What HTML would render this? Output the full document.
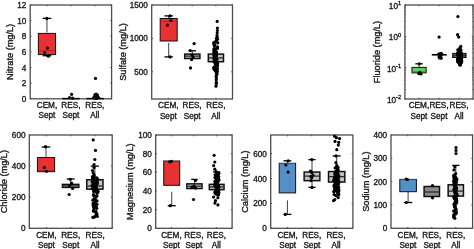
<!DOCTYPE html>
<html><head><meta charset="utf-8"><style>
html,body{margin:0;padding:0;background:#fff;}
body{width:474px;height:249px;overflow:hidden;}
svg{display:block;filter:blur(0.35px);}
text{font-family:"Liberation Sans",sans-serif;fill:#1a1a1a;stroke:#1a1a1a;stroke-width:0.35px;}
</style></head><body>
<svg width="474" height="249" viewBox="0 0 474 249">
<rect width="474" height="249" fill="#fff"/>
<line x1="46.96" y1="18.4" x2="46.96" y2="33.4" stroke="#2a2a2a" stroke-width="0.9" stroke-dasharray="14 9"/>
<line x1="42.66" y1="18.4" x2="51.26" y2="18.4" stroke="#000" stroke-width="1.3"/>
<line x1="46.96" y1="55.7" x2="46.96" y2="54.6" stroke="#2a2a2a" stroke-width="0.9" stroke-dasharray="14 9"/>
<line x1="42.66" y1="55.7" x2="51.26" y2="55.7" stroke="#000" stroke-width="1.3"/>
<rect x="38.36" y="33.4" width="17.2" height="21.2" fill="#e83232" stroke="#111" stroke-width="1"/>
<line x1="38.86" y1="50.6" x2="55.06" y2="50.6" stroke="#b81c1c" stroke-width="0.8"/>
<rect x="30.2" y="5" width="81.4" height="93.8" fill="none" stroke="#4d4d4d" stroke-width="1.3"/>
<line x1="62.1" y1="98.6" x2="79.7" y2="98.6" stroke="#000" stroke-width="1.5"/>
<line x1="86.49" y1="98.6" x2="103.89" y2="98.6" stroke="#000" stroke-width="1.5"/>
<circle cx="46.9" cy="18.4" r="1.6"/>
<circle cx="47.4" cy="48.1" r="1.6"/>
<circle cx="44.7" cy="52.5" r="1.6"/>
<circle cx="48.3" cy="56.2" r="1.6"/>
<circle cx="71.6" cy="94.3" r="1.6"/>
<circle cx="69.6" cy="97.6" r="1.6"/>
<circle cx="72.5" cy="98.2" r="1.6"/>
<circle cx="95.5" cy="78.4" r="1.6"/>
<circle cx="95" cy="94.5" r="1.6"/>
<circle cx="97.5" cy="95" r="1.6"/>
<circle cx="96" cy="96.5" r="1.6"/>
<circle cx="94.5" cy="97.5" r="1.6"/>
<circle cx="97" cy="97.8" r="1.6"/>
<circle cx="95.5" cy="98.3" r="1.6"/>
<circle cx="96.2" cy="94" r="1.6"/>
<circle cx="97.5" cy="96.5" r="1.6"/>
<circle cx="94.8" cy="96" r="1.6"/>
<circle cx="96.5" cy="98.5" r="1.6"/>
<circle cx="93.5" cy="97.8" r="1.6"/>
<circle cx="98.5" cy="97.5" r="1.6"/>
<line x1="46.96" y1="98.8" x2="46.96" y2="97.5" stroke="#4d4d4d" stroke-width="1"/>
<line x1="46.96" y1="5" x2="46.96" y2="6.3" stroke="#4d4d4d" stroke-width="1"/>
<line x1="70.9" y1="98.8" x2="70.9" y2="97.5" stroke="#4d4d4d" stroke-width="1"/>
<line x1="70.9" y1="5" x2="70.9" y2="6.3" stroke="#4d4d4d" stroke-width="1"/>
<line x1="94.84" y1="98.8" x2="94.84" y2="97.5" stroke="#4d4d4d" stroke-width="1"/>
<line x1="94.84" y1="5" x2="94.84" y2="6.3" stroke="#4d4d4d" stroke-width="1"/>
<line x1="30.2" y1="98.8" x2="31.5" y2="98.8" stroke="#4d4d4d" stroke-width="1"/>
<line x1="111.6" y1="98.8" x2="110.3" y2="98.8" stroke="#4d4d4d" stroke-width="1"/>
<text x="26.4" y="101.8" text-anchor="end" font-size="8.2">0</text>
<line x1="30.2" y1="83.17" x2="31.5" y2="83.17" stroke="#4d4d4d" stroke-width="1"/>
<line x1="111.6" y1="83.17" x2="110.3" y2="83.17" stroke="#4d4d4d" stroke-width="1"/>
<text x="26.4" y="86.17" text-anchor="end" font-size="8.2">2</text>
<line x1="30.2" y1="67.53" x2="31.5" y2="67.53" stroke="#4d4d4d" stroke-width="1"/>
<line x1="111.6" y1="67.53" x2="110.3" y2="67.53" stroke="#4d4d4d" stroke-width="1"/>
<text x="26.4" y="70.53" text-anchor="end" font-size="8.2">4</text>
<line x1="30.2" y1="51.9" x2="31.5" y2="51.9" stroke="#4d4d4d" stroke-width="1"/>
<line x1="111.6" y1="51.9" x2="110.3" y2="51.9" stroke="#4d4d4d" stroke-width="1"/>
<text x="26.4" y="54.9" text-anchor="end" font-size="8.2">6</text>
<line x1="30.2" y1="36.27" x2="31.5" y2="36.27" stroke="#4d4d4d" stroke-width="1"/>
<line x1="111.6" y1="36.27" x2="110.3" y2="36.27" stroke="#4d4d4d" stroke-width="1"/>
<text x="26.4" y="39.27" text-anchor="end" font-size="8.2">8</text>
<line x1="30.2" y1="20.63" x2="31.5" y2="20.63" stroke="#4d4d4d" stroke-width="1"/>
<line x1="111.6" y1="20.63" x2="110.3" y2="20.63" stroke="#4d4d4d" stroke-width="1"/>
<text x="26.4" y="23.63" text-anchor="end" font-size="8.2">10</text>
<line x1="30.2" y1="5" x2="31.5" y2="5" stroke="#4d4d4d" stroke-width="1"/>
<line x1="111.6" y1="5" x2="110.3" y2="5" stroke="#4d4d4d" stroke-width="1"/>
<text x="26.4" y="8" text-anchor="end" font-size="8.2">12</text>
<text x="46.96" y="108.2" text-anchor="middle" font-size="8.2">CEM,</text>
<text x="46.96" y="118.3" text-anchor="middle" font-size="8.2">Sept</text>
<text x="70.9" y="108.2" text-anchor="middle" font-size="8.2">RES,</text>
<text x="70.9" y="118.3" text-anchor="middle" font-size="8.2">Sept</text>
<text x="94.84" y="108.2" text-anchor="middle" font-size="8.2">RES,</text>
<text x="94.84" y="118.3" text-anchor="middle" font-size="8.2">All</text>
<text x="0" y="0" text-anchor="middle" font-size="9.2" transform="translate(12.6,51.9) rotate(-90)">Nitrate (mg/L)</text>
<line x1="168.69" y1="15.9" x2="168.69" y2="18.5" stroke="#2a2a2a" stroke-width="0.9" stroke-dasharray="14 9"/>
<line x1="164.44" y1="15.9" x2="172.94" y2="15.9" stroke="#000" stroke-width="1.3"/>
<line x1="168.69" y1="56.9" x2="168.69" y2="41" stroke="#2a2a2a" stroke-width="0.9" stroke-dasharray="14 9"/>
<line x1="164.44" y1="56.9" x2="172.94" y2="56.9" stroke="#000" stroke-width="1.3"/>
<rect x="160.19" y="18.5" width="17" height="22.5" fill="#e83232" stroke="#111" stroke-width="1"/>
<line x1="160.69" y1="21.3" x2="176.69" y2="21.3" stroke="#b81c1c" stroke-width="0.8"/>
<line x1="192.3" y1="50.8" x2="192.3" y2="54.1" stroke="#2a2a2a" stroke-width="0.9" stroke-dasharray="14 9"/>
<line x1="188.6" y1="50.8" x2="196" y2="50.8" stroke="#000" stroke-width="1.3"/>
<rect x="184.7" y="54.1" width="15.2" height="4.4" fill="#c4c4c4" stroke="#111" stroke-width="1.5"/>
<line x1="185.2" y1="56.1" x2="199.4" y2="56.1" stroke="#2a2a2a" stroke-width="1.3"/>
<rect x="208.31" y="54.1" width="15.2" height="7.6" fill="#c4c4c4" stroke="#111" stroke-width="1.5"/>
<line x1="208.81" y1="57.9" x2="223.01" y2="57.9" stroke="#2a2a2a" stroke-width="1.3"/>
<rect x="151.7" y="5" width="80.8" height="94" fill="none" stroke="#4d4d4d" stroke-width="1.3"/>
<circle cx="170.9" cy="20.6" r="1.6"/>
<circle cx="167.4" cy="25.1" r="1.6"/>
<circle cx="170" cy="15.9" r="1.6"/>
<circle cx="170" cy="56.9" r="1.6"/>
<circle cx="194.1" cy="43.6" r="1.6"/>
<circle cx="190.5" cy="67.9" r="1.6"/>
<circle cx="192.1" cy="55" r="1.6"/>
<circle cx="191.6" cy="59.6" r="1.6"/>
<circle cx="193" cy="57" r="1.6"/>
<circle cx="190.2" cy="50.5" r="1.6"/>
<circle cx="217.2" cy="21.4" r="1.6"/>
<circle cx="217.4" cy="28" r="1.6"/>
<circle cx="217.4" cy="30.5" r="1.6"/>
<circle cx="217.2" cy="33" r="1.6"/>
<circle cx="217" cy="35.5" r="1.6"/>
<circle cx="217.16" cy="37.27" r="1.6"/>
<circle cx="216.43" cy="38.59" r="1.6"/>
<circle cx="217.52" cy="39.3" r="1.6"/>
<circle cx="216.54" cy="40.72" r="1.6"/>
<circle cx="215.58" cy="41.5" r="1.6"/>
<circle cx="213.88" cy="42.62" r="1.6"/>
<circle cx="217.74" cy="42.87" r="1.6"/>
<circle cx="213.79" cy="43.71" r="1.6"/>
<circle cx="214.81" cy="44.7" r="1.6"/>
<circle cx="214.29" cy="45.58" r="1.6"/>
<circle cx="214.69" cy="46.37" r="1.6"/>
<circle cx="217.44" cy="46.93" r="1.6"/>
<circle cx="217.41" cy="47.72" r="1.6"/>
<circle cx="217.39" cy="48.38" r="1.6"/>
<circle cx="213.93" cy="48.85" r="1.6"/>
<circle cx="215.29" cy="49.23" r="1.6"/>
<circle cx="214.12" cy="49.69" r="1.6"/>
<circle cx="215.38" cy="50.06" r="1.6"/>
<circle cx="215.42" cy="50.55" r="1.6"/>
<circle cx="213.94" cy="50.96" r="1.6"/>
<circle cx="215.28" cy="51.67" r="1.6"/>
<circle cx="216.54" cy="52.08" r="1.6"/>
<circle cx="213.83" cy="52.51" r="1.6"/>
<circle cx="215.96" cy="53.14" r="1.6"/>
<circle cx="216.08" cy="53.57" r="1.6"/>
<circle cx="215.05" cy="54.16" r="1.6"/>
<circle cx="215.07" cy="54.57" r="1.6"/>
<circle cx="216.24" cy="54.98" r="1.6"/>
<circle cx="213.94" cy="55.38" r="1.6"/>
<circle cx="216.47" cy="55.91" r="1.6"/>
<circle cx="215.39" cy="56.43" r="1.6"/>
<circle cx="214.33" cy="56.93" r="1.6"/>
<circle cx="214.89" cy="57.25" r="1.6"/>
<circle cx="214.38" cy="57.95" r="1.6"/>
<circle cx="213.99" cy="58.19" r="1.6"/>
<circle cx="214.7" cy="58.65" r="1.6"/>
<circle cx="216.88" cy="59.3" r="1.6"/>
<circle cx="215.08" cy="59.7" r="1.6"/>
<circle cx="214.82" cy="60.17" r="1.6"/>
<circle cx="215.8" cy="60.81" r="1.6"/>
<circle cx="214.03" cy="61.12" r="1.6"/>
<circle cx="216.43" cy="61.78" r="1.6"/>
<circle cx="214.55" cy="62.27" r="1.6"/>
<circle cx="217.27" cy="62.66" r="1.6"/>
<circle cx="217.38" cy="63.15" r="1.6"/>
<circle cx="217.5" cy="63.49" r="1.6"/>
<circle cx="215.26" cy="63.93" r="1.6"/>
<circle cx="216.84" cy="64.4" r="1.6"/>
<circle cx="217.49" cy="65.1" r="1.6"/>
<circle cx="217.4" cy="65.62" r="1.6"/>
<circle cx="217.55" cy="66.01" r="1.6"/>
<circle cx="214.98" cy="66.56" r="1.6"/>
<circle cx="215.11" cy="67.12" r="1.6"/>
<circle cx="213.9" cy="67.34" r="1.6"/>
<circle cx="214.39" cy="67.91" r="1.6"/>
<circle cx="217.4" cy="68.55" r="1.6"/>
<circle cx="214.01" cy="68.78" r="1.6"/>
<circle cx="214.28" cy="69.37" r="1.6"/>
<circle cx="216.85" cy="69.85" r="1.6"/>
<circle cx="215.29" cy="70.24" r="1.6"/>
<circle cx="215.38" cy="70.93" r="1.6"/>
<circle cx="217.17" cy="71.23" r="1.6"/>
<circle cx="217.18" cy="71.87" r="1.6"/>
<circle cx="216.55" cy="73.19" r="1.6"/>
<circle cx="216.95" cy="74.34" r="1.6"/>
<circle cx="216.13" cy="76.19" r="1.6"/>
<circle cx="216.34" cy="77.89" r="1.6"/>
<circle cx="216.22" cy="79.8" r="1.6"/>
<circle cx="216.36" cy="82.37" r="1.6"/>
<circle cx="216.3" cy="83.8" r="1.6"/>
<circle cx="216" cy="86.2" r="1.6"/>
<line x1="168.34" y1="99" x2="168.34" y2="97.7" stroke="#4d4d4d" stroke-width="1"/>
<line x1="168.34" y1="5" x2="168.34" y2="6.3" stroke="#4d4d4d" stroke-width="1"/>
<line x1="192.1" y1="99" x2="192.1" y2="97.7" stroke="#4d4d4d" stroke-width="1"/>
<line x1="192.1" y1="5" x2="192.1" y2="6.3" stroke="#4d4d4d" stroke-width="1"/>
<line x1="215.86" y1="99" x2="215.86" y2="97.7" stroke="#4d4d4d" stroke-width="1"/>
<line x1="215.86" y1="5" x2="215.86" y2="6.3" stroke="#4d4d4d" stroke-width="1"/>
<line x1="151.7" y1="5" x2="153" y2="5" stroke="#4d4d4d" stroke-width="1"/>
<line x1="232.5" y1="5" x2="231.2" y2="5" stroke="#4d4d4d" stroke-width="1"/>
<text x="147.9" y="8" text-anchor="end" font-size="8.2">1500</text>
<line x1="151.7" y1="38.4" x2="153" y2="38.4" stroke="#4d4d4d" stroke-width="1"/>
<line x1="232.5" y1="38.4" x2="231.2" y2="38.4" stroke="#4d4d4d" stroke-width="1"/>
<text x="147.9" y="41.4" text-anchor="end" font-size="8.2">1000</text>
<line x1="151.7" y1="71.8" x2="153" y2="71.8" stroke="#4d4d4d" stroke-width="1"/>
<line x1="232.5" y1="71.8" x2="231.2" y2="71.8" stroke="#4d4d4d" stroke-width="1"/>
<text x="147.9" y="74.8" text-anchor="end" font-size="8.2">500</text>
<text x="168.34" y="108.4" text-anchor="middle" font-size="8.2">CEM,</text>
<text x="168.34" y="118.5" text-anchor="middle" font-size="8.2">Sept</text>
<text x="192.1" y="108.4" text-anchor="middle" font-size="8.2">RES,</text>
<text x="192.1" y="118.5" text-anchor="middle" font-size="8.2">Sept</text>
<text x="215.86" y="108.4" text-anchor="middle" font-size="8.2">RES,</text>
<text x="215.86" y="118.5" text-anchor="middle" font-size="8.2">All</text>
<text x="0" y="0" text-anchor="middle" font-size="9.2" transform="translate(125.7,52) rotate(-90)">Sulfate (mg/L)</text>
<line x1="419.04" y1="63.8" x2="419.04" y2="67.4" stroke="#2a2a2a" stroke-width="0.9" stroke-dasharray="14 9"/>
<line x1="415.34" y1="63.8" x2="422.74" y2="63.8" stroke="#000" stroke-width="1.3"/>
<rect x="411.94" y="67.4" width="14.2" height="5.5" fill="#5ccc5c" stroke="#111" stroke-width="1"/>
<line x1="412.44" y1="72" x2="425.64" y2="72" stroke="#1d6b1d" stroke-width="0.8"/>
<rect x="452.91" y="53.65" width="12.9" height="3.6" fill="#c4c4c4" stroke="#111" stroke-width="1.5"/>
<line x1="453.41" y1="55.5" x2="465.31" y2="55.5" stroke="#2a2a2a" stroke-width="1.3"/>
<rect x="404.9" y="5" width="68.2" height="94" fill="none" stroke="#4d4d4d" stroke-width="1.3"/>
<line x1="431.8" y1="54.8" x2="446.8" y2="54.8" stroke="#000" stroke-width="1.6"/>
<circle cx="419.8" cy="72.3" r="1.6"/>
<circle cx="419.3" cy="63.8" r="1.6"/>
<circle cx="421" cy="74" r="1.6"/>
<circle cx="418.8" cy="73.6" r="1.6"/>
<circle cx="439.1" cy="37.1" r="1.6"/>
<circle cx="440.2" cy="53.5" r="1.6"/>
<circle cx="440.5" cy="56.5" r="1.6"/>
<circle cx="439.5" cy="58" r="1.6"/>
<circle cx="441" cy="55" r="1.6"/>
<circle cx="438.6" cy="54" r="1.6"/>
<circle cx="441.6" cy="53.6" r="1.6"/>
<circle cx="439" cy="56.8" r="1.6"/>
<circle cx="441.2" cy="58.2" r="1.6"/>
<circle cx="457.9" cy="16.6" r="1.6"/>
<circle cx="457.6" cy="34.7" r="1.6"/>
<circle cx="458.7" cy="37.1" r="1.6"/>
<circle cx="460.8" cy="46.4" r="1.6"/>
<circle cx="459.79" cy="48.21" r="1.6"/>
<circle cx="460.04" cy="48.94" r="1.6"/>
<circle cx="457.78" cy="49.73" r="1.6"/>
<circle cx="461.02" cy="50.11" r="1.6"/>
<circle cx="458.48" cy="50.89" r="1.6"/>
<circle cx="459.48" cy="51.9" r="1.6"/>
<circle cx="459.5" cy="52.18" r="1.6"/>
<circle cx="458.13" cy="52.4" r="1.6"/>
<circle cx="461.15" cy="52.65" r="1.6"/>
<circle cx="460.61" cy="52.88" r="1.6"/>
<circle cx="457.77" cy="53.15" r="1.6"/>
<circle cx="459.98" cy="53.42" r="1.6"/>
<circle cx="457.63" cy="53.59" r="1.6"/>
<circle cx="459.49" cy="53.94" r="1.6"/>
<circle cx="461.19" cy="54.16" r="1.6"/>
<circle cx="461.37" cy="54.41" r="1.6"/>
<circle cx="460.86" cy="54.61" r="1.6"/>
<circle cx="461.43" cy="54.87" r="1.6"/>
<circle cx="457.91" cy="55.19" r="1.6"/>
<circle cx="458.41" cy="55.31" r="1.6"/>
<circle cx="459.33" cy="55.71" r="1.6"/>
<circle cx="458.76" cy="55.9" r="1.6"/>
<circle cx="459.12" cy="56.13" r="1.6"/>
<circle cx="459.96" cy="56.35" r="1.6"/>
<circle cx="461.3" cy="56.64" r="1.6"/>
<circle cx="461.4" cy="56.91" r="1.6"/>
<circle cx="461.66" cy="57.19" r="1.6"/>
<circle cx="458.19" cy="57.4" r="1.6"/>
<circle cx="461.55" cy="57.69" r="1.6"/>
<circle cx="459.89" cy="57.95" r="1.6"/>
<circle cx="458.39" cy="58.16" r="1.6"/>
<circle cx="459.91" cy="58.43" r="1.6"/>
<circle cx="457.77" cy="58.59" r="1.6"/>
<circle cx="461.66" cy="58.94" r="1.6"/>
<circle cx="460.86" cy="59.05" r="1.6"/>
<circle cx="458.13" cy="59.36" r="1.6"/>
<circle cx="460.73" cy="59.59" r="1.6"/>
<circle cx="457.69" cy="59.94" r="1.6"/>
<circle cx="457.69" cy="60.15" r="1.6"/>
<circle cx="458.89" cy="60.41" r="1.6"/>
<circle cx="461.62" cy="60.69" r="1.6"/>
<circle cx="461.69" cy="60.88" r="1.6"/>
<circle cx="457.82" cy="61.09" r="1.6"/>
<circle cx="457.63" cy="61.39" r="1.6"/>
<circle cx="459.21" cy="61.57" r="1.6"/>
<circle cx="458.16" cy="61.89" r="1.6"/>
<circle cx="461.14" cy="62.07" r="1.6"/>
<circle cx="461.53" cy="62.56" r="1.6"/>
<circle cx="459.09" cy="63.15" r="1.6"/>
<circle cx="459.68" cy="63.43" r="1.6"/>
<circle cx="460" cy="63.9" r="1.6"/>
<circle cx="460.1" cy="64.29" r="1.6"/>
<circle cx="459.63" cy="64.81" r="1.6"/>
<circle cx="460.53" cy="65.07" r="1.6"/>
<line x1="418.94" y1="99" x2="418.94" y2="97.7" stroke="#4d4d4d" stroke-width="1"/>
<line x1="418.94" y1="5" x2="418.94" y2="6.3" stroke="#4d4d4d" stroke-width="1"/>
<line x1="439" y1="99" x2="439" y2="97.7" stroke="#4d4d4d" stroke-width="1"/>
<line x1="439" y1="5" x2="439" y2="6.3" stroke="#4d4d4d" stroke-width="1"/>
<line x1="459.06" y1="99" x2="459.06" y2="97.7" stroke="#4d4d4d" stroke-width="1"/>
<line x1="459.06" y1="5" x2="459.06" y2="6.3" stroke="#4d4d4d" stroke-width="1"/>
<line x1="404.9" y1="5" x2="406.2" y2="5" stroke="#4d4d4d" stroke-width="1"/>
<line x1="473.1" y1="5" x2="471.8" y2="5" stroke="#4d4d4d" stroke-width="1"/>
<text x="401.1" y="8.9" text-anchor="end" font-size="8.2">10<tspan dy="-3.6" font-size="5.6">1</tspan></text>
<line x1="404.9" y1="36.33" x2="406.2" y2="36.33" stroke="#4d4d4d" stroke-width="1"/>
<line x1="473.1" y1="36.33" x2="471.8" y2="36.33" stroke="#4d4d4d" stroke-width="1"/>
<text x="401.1" y="40.23" text-anchor="end" font-size="8.2">10<tspan dy="-3.6" font-size="5.6">0</tspan></text>
<line x1="404.9" y1="67.67" x2="406.2" y2="67.67" stroke="#4d4d4d" stroke-width="1"/>
<line x1="473.1" y1="67.67" x2="471.8" y2="67.67" stroke="#4d4d4d" stroke-width="1"/>
<text x="401.1" y="71.57" text-anchor="end" font-size="8.2">10<tspan dy="-3.6" font-size="5.6">-1</tspan></text>
<line x1="404.9" y1="99" x2="406.2" y2="99" stroke="#4d4d4d" stroke-width="1"/>
<line x1="473.1" y1="99" x2="471.8" y2="99" stroke="#4d4d4d" stroke-width="1"/>
<text x="401.1" y="102.9" text-anchor="end" font-size="8.2">10<tspan dy="-3.6" font-size="5.6">-2</tspan></text>
<line x1="404.9" y1="89.57" x2="405.9" y2="89.57" stroke="#4d4d4d" stroke-width="0.8"/>
<line x1="473.1" y1="89.57" x2="472.1" y2="89.57" stroke="#4d4d4d" stroke-width="0.8"/>
<line x1="404.9" y1="84.05" x2="405.9" y2="84.05" stroke="#4d4d4d" stroke-width="0.8"/>
<line x1="473.1" y1="84.05" x2="472.1" y2="84.05" stroke="#4d4d4d" stroke-width="0.8"/>
<line x1="404.9" y1="80.14" x2="405.9" y2="80.14" stroke="#4d4d4d" stroke-width="0.8"/>
<line x1="473.1" y1="80.14" x2="472.1" y2="80.14" stroke="#4d4d4d" stroke-width="0.8"/>
<line x1="404.9" y1="77.1" x2="405.9" y2="77.1" stroke="#4d4d4d" stroke-width="0.8"/>
<line x1="473.1" y1="77.1" x2="472.1" y2="77.1" stroke="#4d4d4d" stroke-width="0.8"/>
<line x1="404.9" y1="74.62" x2="405.9" y2="74.62" stroke="#4d4d4d" stroke-width="0.8"/>
<line x1="473.1" y1="74.62" x2="472.1" y2="74.62" stroke="#4d4d4d" stroke-width="0.8"/>
<line x1="404.9" y1="72.52" x2="405.9" y2="72.52" stroke="#4d4d4d" stroke-width="0.8"/>
<line x1="473.1" y1="72.52" x2="472.1" y2="72.52" stroke="#4d4d4d" stroke-width="0.8"/>
<line x1="404.9" y1="70.7" x2="405.9" y2="70.7" stroke="#4d4d4d" stroke-width="0.8"/>
<line x1="473.1" y1="70.7" x2="472.1" y2="70.7" stroke="#4d4d4d" stroke-width="0.8"/>
<line x1="404.9" y1="69.1" x2="405.9" y2="69.1" stroke="#4d4d4d" stroke-width="0.8"/>
<line x1="473.1" y1="69.1" x2="472.1" y2="69.1" stroke="#4d4d4d" stroke-width="0.8"/>
<line x1="404.9" y1="58.23" x2="405.9" y2="58.23" stroke="#4d4d4d" stroke-width="0.8"/>
<line x1="473.1" y1="58.23" x2="472.1" y2="58.23" stroke="#4d4d4d" stroke-width="0.8"/>
<line x1="404.9" y1="52.72" x2="405.9" y2="52.72" stroke="#4d4d4d" stroke-width="0.8"/>
<line x1="473.1" y1="52.72" x2="472.1" y2="52.72" stroke="#4d4d4d" stroke-width="0.8"/>
<line x1="404.9" y1="48.8" x2="405.9" y2="48.8" stroke="#4d4d4d" stroke-width="0.8"/>
<line x1="473.1" y1="48.8" x2="472.1" y2="48.8" stroke="#4d4d4d" stroke-width="0.8"/>
<line x1="404.9" y1="45.77" x2="405.9" y2="45.77" stroke="#4d4d4d" stroke-width="0.8"/>
<line x1="473.1" y1="45.77" x2="472.1" y2="45.77" stroke="#4d4d4d" stroke-width="0.8"/>
<line x1="404.9" y1="43.28" x2="405.9" y2="43.28" stroke="#4d4d4d" stroke-width="0.8"/>
<line x1="473.1" y1="43.28" x2="472.1" y2="43.28" stroke="#4d4d4d" stroke-width="0.8"/>
<line x1="404.9" y1="41.19" x2="405.9" y2="41.19" stroke="#4d4d4d" stroke-width="0.8"/>
<line x1="473.1" y1="41.19" x2="472.1" y2="41.19" stroke="#4d4d4d" stroke-width="0.8"/>
<line x1="404.9" y1="39.37" x2="405.9" y2="39.37" stroke="#4d4d4d" stroke-width="0.8"/>
<line x1="473.1" y1="39.37" x2="472.1" y2="39.37" stroke="#4d4d4d" stroke-width="0.8"/>
<line x1="404.9" y1="37.77" x2="405.9" y2="37.77" stroke="#4d4d4d" stroke-width="0.8"/>
<line x1="473.1" y1="37.77" x2="472.1" y2="37.77" stroke="#4d4d4d" stroke-width="0.8"/>
<line x1="404.9" y1="26.9" x2="405.9" y2="26.9" stroke="#4d4d4d" stroke-width="0.8"/>
<line x1="473.1" y1="26.9" x2="472.1" y2="26.9" stroke="#4d4d4d" stroke-width="0.8"/>
<line x1="404.9" y1="21.38" x2="405.9" y2="21.38" stroke="#4d4d4d" stroke-width="0.8"/>
<line x1="473.1" y1="21.38" x2="472.1" y2="21.38" stroke="#4d4d4d" stroke-width="0.8"/>
<line x1="404.9" y1="17.47" x2="405.9" y2="17.47" stroke="#4d4d4d" stroke-width="0.8"/>
<line x1="473.1" y1="17.47" x2="472.1" y2="17.47" stroke="#4d4d4d" stroke-width="0.8"/>
<line x1="404.9" y1="14.43" x2="405.9" y2="14.43" stroke="#4d4d4d" stroke-width="0.8"/>
<line x1="473.1" y1="14.43" x2="472.1" y2="14.43" stroke="#4d4d4d" stroke-width="0.8"/>
<line x1="404.9" y1="11.95" x2="405.9" y2="11.95" stroke="#4d4d4d" stroke-width="0.8"/>
<line x1="473.1" y1="11.95" x2="472.1" y2="11.95" stroke="#4d4d4d" stroke-width="0.8"/>
<line x1="404.9" y1="9.85" x2="405.9" y2="9.85" stroke="#4d4d4d" stroke-width="0.8"/>
<line x1="473.1" y1="9.85" x2="472.1" y2="9.85" stroke="#4d4d4d" stroke-width="0.8"/>
<line x1="404.9" y1="8.04" x2="405.9" y2="8.04" stroke="#4d4d4d" stroke-width="0.8"/>
<line x1="473.1" y1="8.04" x2="472.1" y2="8.04" stroke="#4d4d4d" stroke-width="0.8"/>
<line x1="404.9" y1="6.43" x2="405.9" y2="6.43" stroke="#4d4d4d" stroke-width="0.8"/>
<line x1="473.1" y1="6.43" x2="472.1" y2="6.43" stroke="#4d4d4d" stroke-width="0.8"/>
<text x="418.94" y="108.4" text-anchor="middle" font-size="8.2">CEM,</text>
<text x="418.94" y="118.5" text-anchor="middle" font-size="8.2">Sept</text>
<text x="439" y="108.4" text-anchor="middle" font-size="8.2">RES,</text>
<text x="439" y="118.5" text-anchor="middle" font-size="8.2">Sept</text>
<text x="459.06" y="108.4" text-anchor="middle" font-size="8.2">RES,</text>
<text x="459.06" y="118.5" text-anchor="middle" font-size="8.2">All</text>
<text x="0" y="0" text-anchor="middle" font-size="9.2" transform="translate(379.7,52) rotate(-90)">Fluoride (mg/L)</text>
<line x1="46.02" y1="147" x2="46.02" y2="157.5" stroke="#2a2a2a" stroke-width="0.9" stroke-dasharray="14 9"/>
<line x1="41.72" y1="147" x2="50.32" y2="147" stroke="#000" stroke-width="1.3"/>
<rect x="37.42" y="157.5" width="17.2" height="14.2" fill="#e83232" stroke="#111" stroke-width="1"/>
<line x1="37.92" y1="170.5" x2="54.12" y2="170.5" stroke="#b81c1c" stroke-width="0.8"/>
<line x1="70.65" y1="179" x2="70.65" y2="184.4" stroke="#2a2a2a" stroke-width="0.9" stroke-dasharray="14 9"/>
<line x1="66.7" y1="179" x2="74.6" y2="179" stroke="#000" stroke-width="1.3"/>
<rect x="62.45" y="184.4" width="16.4" height="3" fill="#c4c4c4" stroke="#111" stroke-width="1.5"/>
<line x1="62.95" y1="185.9" x2="78.35" y2="185.9" stroke="#2a2a2a" stroke-width="1.3"/>
<line x1="94.88" y1="166.1" x2="94.88" y2="179.75" stroke="#2a2a2a" stroke-width="0.9" stroke-dasharray="14 9"/>
<line x1="90.83" y1="166.1" x2="98.93" y2="166.1" stroke="#000" stroke-width="1.3"/>
<rect x="86.78" y="179.75" width="16.2" height="9.4" fill="#c4c4c4" stroke="#111" stroke-width="1.5"/>
<line x1="87.28" y1="186" x2="102.48" y2="186" stroke="#2a2a2a" stroke-width="1.3"/>
<rect x="29.3" y="135" width="82.9" height="93.3" fill="none" stroke="#4d4d4d" stroke-width="1.3"/>
<circle cx="45.5" cy="146.7" r="1.6"/>
<circle cx="44.3" cy="167.6" r="1.6"/>
<circle cx="46.5" cy="171.3" r="1.6"/>
<circle cx="69.2" cy="194.5" r="1.6"/>
<circle cx="71.6" cy="183.2" r="1.6"/>
<circle cx="72.6" cy="188.5" r="1.6"/>
<circle cx="69.5" cy="185.8" r="1.6"/>
<circle cx="70.3" cy="179.3" r="1.6"/>
<circle cx="93.2" cy="139.9" r="1.6"/>
<circle cx="95.5" cy="150.4" r="1.6"/>
<circle cx="94.8" cy="159.5" r="1.6"/>
<circle cx="94" cy="164.5" r="1.6"/>
<circle cx="94" cy="167.6" r="1.6"/>
<circle cx="92.5" cy="170.5" r="1.6"/>
<circle cx="93.2" cy="173" r="1.6"/>
<circle cx="94.2" cy="175" r="1.6"/>
<circle cx="92.5" cy="176.62" r="1.6"/>
<circle cx="92.83" cy="177.04" r="1.6"/>
<circle cx="94.38" cy="177.32" r="1.6"/>
<circle cx="96.89" cy="177.92" r="1.6"/>
<circle cx="93.25" cy="178.26" r="1.6"/>
<circle cx="93.59" cy="178.57" r="1.6"/>
<circle cx="92.52" cy="178.85" r="1.6"/>
<circle cx="97.69" cy="179.24" r="1.6"/>
<circle cx="96.93" cy="179.77" r="1.6"/>
<circle cx="93.07" cy="180.14" r="1.6"/>
<circle cx="95.8" cy="180.39" r="1.6"/>
<circle cx="97.23" cy="180.87" r="1.6"/>
<circle cx="92.4" cy="181.29" r="1.6"/>
<circle cx="96.08" cy="181.59" r="1.6"/>
<circle cx="92.97" cy="181.94" r="1.6"/>
<circle cx="92.41" cy="182.31" r="1.6"/>
<circle cx="97.3" cy="182.8" r="1.6"/>
<circle cx="93.74" cy="183.08" r="1.6"/>
<circle cx="95.46" cy="183.54" r="1.6"/>
<circle cx="97.19" cy="183.91" r="1.6"/>
<circle cx="94.46" cy="184.19" r="1.6"/>
<circle cx="94.57" cy="184.59" r="1.6"/>
<circle cx="93.77" cy="184.85" r="1.6"/>
<circle cx="92.12" cy="185.39" r="1.6"/>
<circle cx="95.8" cy="185.57" r="1.6"/>
<circle cx="95.22" cy="186" r="1.6"/>
<circle cx="94.01" cy="186.43" r="1.6"/>
<circle cx="93.08" cy="186.94" r="1.6"/>
<circle cx="93.13" cy="187.16" r="1.6"/>
<circle cx="93.59" cy="187.6" r="1.6"/>
<circle cx="96.56" cy="187.9" r="1.6"/>
<circle cx="95.37" cy="188.27" r="1.6"/>
<circle cx="92.49" cy="188.79" r="1.6"/>
<circle cx="93.29" cy="188.95" r="1.6"/>
<circle cx="95.73" cy="189.51" r="1.6"/>
<circle cx="93.94" cy="189.74" r="1.6"/>
<circle cx="94.74" cy="190.1" r="1.6"/>
<circle cx="96.24" cy="190.44" r="1.6"/>
<circle cx="97.86" cy="191.04" r="1.6"/>
<circle cx="97.9" cy="191.37" r="1.6"/>
<circle cx="93.67" cy="191.56" r="1.6"/>
<circle cx="96.73" cy="192.18" r="1.6"/>
<circle cx="97.79" cy="192.41" r="1.6"/>
<circle cx="97" cy="192.84" r="1.6"/>
<circle cx="94.2" cy="190.7" r="1.6"/>
<circle cx="93.6" cy="195.5" r="1.6"/>
<circle cx="96.3" cy="196.1" r="1.6"/>
<circle cx="92.9" cy="200.2" r="1.6"/>
<circle cx="97" cy="200.9" r="1.6"/>
<circle cx="94.9" cy="203.7" r="1.6"/>
<circle cx="93.6" cy="207.1" r="1.6"/>
<circle cx="97" cy="204.3" r="1.6"/>
<circle cx="94.2" cy="208.4" r="1.6"/>
<circle cx="93.6" cy="211.2" r="1.6"/>
<circle cx="96.3" cy="214.6" r="1.6"/>
<circle cx="92.9" cy="217.3" r="1.6"/>
<circle cx="94.9" cy="216.6" r="1.6"/>
<circle cx="93.55" cy="194.54" r="1.6"/>
<circle cx="96.97" cy="195.63" r="1.6"/>
<circle cx="95.85" cy="197.28" r="1.6"/>
<circle cx="94.32" cy="198.55" r="1.6"/>
<circle cx="95.28" cy="199.99" r="1.6"/>
<circle cx="95.71" cy="201.32" r="1.6"/>
<circle cx="94.6" cy="202.66" r="1.6"/>
<circle cx="93.15" cy="203.33" r="1.6"/>
<circle cx="93.24" cy="205.13" r="1.6"/>
<circle cx="95.5" cy="206.35" r="1.6"/>
<circle cx="96.32" cy="207.1" r="1.6"/>
<circle cx="96.73" cy="208.37" r="1.6"/>
<circle cx="93.48" cy="210.38" r="1.6"/>
<circle cx="96.06" cy="211.56" r="1.6"/>
<circle cx="95.75" cy="212.39" r="1.6"/>
<circle cx="96.97" cy="214.01" r="1.6"/>
<circle cx="97.3" cy="216.28" r="1.6"/>
<circle cx="93.99" cy="217.18" r="1.6"/>
<line x1="46.37" y1="228.3" x2="46.37" y2="227" stroke="#4d4d4d" stroke-width="1"/>
<line x1="46.37" y1="135" x2="46.37" y2="136.3" stroke="#4d4d4d" stroke-width="1"/>
<line x1="70.75" y1="228.3" x2="70.75" y2="227" stroke="#4d4d4d" stroke-width="1"/>
<line x1="70.75" y1="135" x2="70.75" y2="136.3" stroke="#4d4d4d" stroke-width="1"/>
<line x1="95.13" y1="228.3" x2="95.13" y2="227" stroke="#4d4d4d" stroke-width="1"/>
<line x1="95.13" y1="135" x2="95.13" y2="136.3" stroke="#4d4d4d" stroke-width="1"/>
<line x1="29.3" y1="228.3" x2="30.6" y2="228.3" stroke="#4d4d4d" stroke-width="1"/>
<line x1="112.2" y1="228.3" x2="110.9" y2="228.3" stroke="#4d4d4d" stroke-width="1"/>
<text x="25.5" y="231.3" text-anchor="end" font-size="8.2">0</text>
<line x1="29.3" y1="197.2" x2="30.6" y2="197.2" stroke="#4d4d4d" stroke-width="1"/>
<line x1="112.2" y1="197.2" x2="110.9" y2="197.2" stroke="#4d4d4d" stroke-width="1"/>
<text x="25.5" y="200.2" text-anchor="end" font-size="8.2">200</text>
<line x1="29.3" y1="166.1" x2="30.6" y2="166.1" stroke="#4d4d4d" stroke-width="1"/>
<line x1="112.2" y1="166.1" x2="110.9" y2="166.1" stroke="#4d4d4d" stroke-width="1"/>
<text x="25.5" y="169.1" text-anchor="end" font-size="8.2">400</text>
<line x1="29.3" y1="135" x2="30.6" y2="135" stroke="#4d4d4d" stroke-width="1"/>
<line x1="112.2" y1="135" x2="110.9" y2="135" stroke="#4d4d4d" stroke-width="1"/>
<text x="25.5" y="138" text-anchor="end" font-size="8.2">600</text>
<text x="46.37" y="237.7" text-anchor="middle" font-size="8.2">CEM,</text>
<text x="46.37" y="247.8" text-anchor="middle" font-size="8.2">Sept</text>
<text x="70.75" y="237.7" text-anchor="middle" font-size="8.2">RES,</text>
<text x="70.75" y="247.8" text-anchor="middle" font-size="8.2">Sept</text>
<text x="95.13" y="237.7" text-anchor="middle" font-size="8.2">RES,</text>
<text x="95.13" y="247.8" text-anchor="middle" font-size="8.2">All</text>
<text x="0" y="0" text-anchor="middle" font-size="9.2" transform="translate(6.7,181.65) rotate(-90)">Chloride (mg/L)</text>
<line x1="171.73" y1="205.7" x2="171.73" y2="185.3" stroke="#2a2a2a" stroke-width="0.9" stroke-dasharray="14 9"/>
<line x1="167.73" y1="205.7" x2="175.73" y2="205.7" stroke="#000" stroke-width="1.3"/>
<rect x="163.73" y="161" width="16" height="24.3" fill="#e83232" stroke="#111" stroke-width="1"/>
<line x1="164.23" y1="161.6" x2="179.23" y2="161.6" stroke="#b81c1c" stroke-width="0.8"/>
<line x1="194.45" y1="179.4" x2="194.45" y2="183.85" stroke="#2a2a2a" stroke-width="0.9" stroke-dasharray="14 9"/>
<line x1="191.2" y1="179.4" x2="197.7" y2="179.4" stroke="#000" stroke-width="1.3"/>
<rect x="186.85" y="183.85" width="15.2" height="4.7" fill="#c4c4c4" stroke="#111" stroke-width="1.5"/>
<line x1="187.35" y1="186.2" x2="201.55" y2="186.2" stroke="#2a2a2a" stroke-width="1.3"/>
<line x1="216.67" y1="172" x2="216.67" y2="184.35" stroke="#2a2a2a" stroke-width="0.9" stroke-dasharray="14 9"/>
<line x1="213" y1="172" x2="220.35" y2="172" stroke="#000" stroke-width="1.3"/>
<rect x="209.32" y="184.35" width="14.7" height="5.3" fill="#c4c4c4" stroke="#111" stroke-width="1.5"/>
<line x1="209.82" y1="186.9" x2="223.52" y2="186.9" stroke="#2a2a2a" stroke-width="1.3"/>
<rect x="155.7" y="135" width="76.4" height="93.3" fill="none" stroke="#4d4d4d" stroke-width="1.3"/>
<circle cx="169.8" cy="161.8" r="1.6"/>
<circle cx="171.5" cy="161.3" r="1.6"/>
<circle cx="170.3" cy="205.7" r="1.6"/>
<circle cx="195.5" cy="180.5" r="1.6"/>
<circle cx="193.5" cy="199.5" r="1.6"/>
<circle cx="194" cy="186" r="1.6"/>
<circle cx="192" cy="187.5" r="1.6"/>
<circle cx="195.5" cy="188" r="1.6"/>
<circle cx="214.1" cy="155.3" r="1.6"/>
<circle cx="214.8" cy="162" r="1.6"/>
<circle cx="213.6" cy="165.6" r="1.6"/>
<circle cx="214.8" cy="169.2" r="1.6"/>
<circle cx="216" cy="171.6" r="1.6"/>
<circle cx="217.82" cy="172.74" r="1.6"/>
<circle cx="218.66" cy="173.2" r="1.6"/>
<circle cx="218.57" cy="173.59" r="1.6"/>
<circle cx="216.66" cy="173.8" r="1.6"/>
<circle cx="217.43" cy="174.47" r="1.6"/>
<circle cx="215.18" cy="174.86" r="1.6"/>
<circle cx="215.74" cy="175.15" r="1.6"/>
<circle cx="217.11" cy="175.58" r="1.6"/>
<circle cx="215.61" cy="175.84" r="1.6"/>
<circle cx="218.55" cy="176.32" r="1.6"/>
<circle cx="215.37" cy="176.87" r="1.6"/>
<circle cx="215.28" cy="177.29" r="1.6"/>
<circle cx="215.23" cy="177.65" r="1.6"/>
<circle cx="218.36" cy="177.88" r="1.6"/>
<circle cx="215.61" cy="178.35" r="1.6"/>
<circle cx="218.36" cy="178.98" r="1.6"/>
<circle cx="218.74" cy="179.19" r="1.6"/>
<circle cx="217.55" cy="179.67" r="1.6"/>
<circle cx="218.65" cy="179.98" r="1.6"/>
<circle cx="218.76" cy="180.53" r="1.6"/>
<circle cx="215.95" cy="181" r="1.6"/>
<circle cx="215.4" cy="181.26" r="1.6"/>
<circle cx="214.97" cy="181.6" r="1.6"/>
<circle cx="217.23" cy="182.06" r="1.6"/>
<circle cx="217.55" cy="182.38" r="1.6"/>
<circle cx="216" cy="182.89" r="1.6"/>
<circle cx="216.72" cy="183.43" r="1.6"/>
<circle cx="216.72" cy="183.7" r="1.6"/>
<circle cx="214.94" cy="184.22" r="1.6"/>
<circle cx="214.8" cy="184.7" r="1.6"/>
<circle cx="218.25" cy="185.05" r="1.6"/>
<circle cx="218.01" cy="185.25" r="1.6"/>
<circle cx="217.13" cy="185.76" r="1.6"/>
<circle cx="214.9" cy="186.06" r="1.6"/>
<circle cx="218.71" cy="186.52" r="1.6"/>
<circle cx="217.87" cy="186.94" r="1.6"/>
<circle cx="218.66" cy="187.55" r="1.6"/>
<circle cx="216.19" cy="187.8" r="1.6"/>
<circle cx="217.96" cy="188.26" r="1.6"/>
<circle cx="217.84" cy="188.55" r="1.6"/>
<circle cx="218.31" cy="189.15" r="1.6"/>
<circle cx="218.67" cy="189.34" r="1.6"/>
<circle cx="216.13" cy="189.77" r="1.6"/>
<circle cx="218.56" cy="190.33" r="1.6"/>
<circle cx="218.58" cy="190.66" r="1.6"/>
<circle cx="216.01" cy="191.13" r="1.6"/>
<circle cx="215.45" cy="191.47" r="1.6"/>
<circle cx="215.33" cy="191.81" r="1.6"/>
<circle cx="218.89" cy="192.4" r="1.6"/>
<circle cx="214.9" cy="192.65" r="1.6"/>
<circle cx="216.94" cy="193.3" r="1.6"/>
<circle cx="215.7" cy="193.54" r="1.6"/>
<circle cx="218.17" cy="194" r="1.6"/>
<circle cx="216.47" cy="194.37" r="1.6"/>
<circle cx="218.55" cy="194.67" r="1.6"/>
<circle cx="213.6" cy="197.1" r="1.6"/>
<circle cx="217.9" cy="197.7" r="1.6"/>
<circle cx="215.5" cy="200.7" r="1.6"/>
<circle cx="214.9" cy="203.1" r="1.6"/>
<circle cx="217.9" cy="204.9" r="1.6"/>
<line x1="171.43" y1="228.3" x2="171.43" y2="227" stroke="#4d4d4d" stroke-width="1"/>
<line x1="171.43" y1="135" x2="171.43" y2="136.3" stroke="#4d4d4d" stroke-width="1"/>
<line x1="193.9" y1="228.3" x2="193.9" y2="227" stroke="#4d4d4d" stroke-width="1"/>
<line x1="193.9" y1="135" x2="193.9" y2="136.3" stroke="#4d4d4d" stroke-width="1"/>
<line x1="216.37" y1="228.3" x2="216.37" y2="227" stroke="#4d4d4d" stroke-width="1"/>
<line x1="216.37" y1="135" x2="216.37" y2="136.3" stroke="#4d4d4d" stroke-width="1"/>
<line x1="155.7" y1="228.3" x2="157" y2="228.3" stroke="#4d4d4d" stroke-width="1"/>
<line x1="232.1" y1="228.3" x2="230.8" y2="228.3" stroke="#4d4d4d" stroke-width="1"/>
<text x="151.9" y="231.3" text-anchor="end" font-size="8.2">0</text>
<line x1="155.7" y1="209.64" x2="157" y2="209.64" stroke="#4d4d4d" stroke-width="1"/>
<line x1="232.1" y1="209.64" x2="230.8" y2="209.64" stroke="#4d4d4d" stroke-width="1"/>
<text x="151.9" y="212.64" text-anchor="end" font-size="8.2">20</text>
<line x1="155.7" y1="190.98" x2="157" y2="190.98" stroke="#4d4d4d" stroke-width="1"/>
<line x1="232.1" y1="190.98" x2="230.8" y2="190.98" stroke="#4d4d4d" stroke-width="1"/>
<text x="151.9" y="193.98" text-anchor="end" font-size="8.2">40</text>
<line x1="155.7" y1="172.32" x2="157" y2="172.32" stroke="#4d4d4d" stroke-width="1"/>
<line x1="232.1" y1="172.32" x2="230.8" y2="172.32" stroke="#4d4d4d" stroke-width="1"/>
<text x="151.9" y="175.32" text-anchor="end" font-size="8.2">60</text>
<line x1="155.7" y1="153.66" x2="157" y2="153.66" stroke="#4d4d4d" stroke-width="1"/>
<line x1="232.1" y1="153.66" x2="230.8" y2="153.66" stroke="#4d4d4d" stroke-width="1"/>
<text x="151.9" y="156.66" text-anchor="end" font-size="8.2">80</text>
<line x1="155.7" y1="135" x2="157" y2="135" stroke="#4d4d4d" stroke-width="1"/>
<line x1="232.1" y1="135" x2="230.8" y2="135" stroke="#4d4d4d" stroke-width="1"/>
<text x="151.9" y="138" text-anchor="end" font-size="8.2">100</text>
<text x="171.43" y="237.7" text-anchor="middle" font-size="8.2">CEM,</text>
<text x="171.43" y="247.8" text-anchor="middle" font-size="8.2">Sept</text>
<text x="193.9" y="237.7" text-anchor="middle" font-size="8.2">RES,</text>
<text x="193.9" y="247.8" text-anchor="middle" font-size="8.2">Sept</text>
<text x="216.37" y="237.7" text-anchor="middle" font-size="8.2">RES,</text>
<text x="216.37" y="247.8" text-anchor="middle" font-size="8.2">All</text>
<text x="0" y="0" text-anchor="middle" font-size="9.2" transform="translate(132.7,181.65) rotate(-90)">Magnesium (mg/L)</text>
<line x1="287.42" y1="160.8" x2="287.42" y2="163.3" stroke="#2a2a2a" stroke-width="0.9" stroke-dasharray="14 9"/>
<line x1="283.52" y1="160.8" x2="291.32" y2="160.8" stroke="#000" stroke-width="1.3"/>
<line x1="287.42" y1="214.4" x2="287.42" y2="192.9" stroke="#2a2a2a" stroke-width="0.9" stroke-dasharray="14 9"/>
<line x1="283.52" y1="214.4" x2="291.32" y2="214.4" stroke="#000" stroke-width="1.3"/>
<rect x="279.22" y="163.3" width="16.4" height="29.6" fill="#5390c8" stroke="#111" stroke-width="1"/>
<line x1="279.72" y1="163.8" x2="295.12" y2="163.8" stroke="#3f7cb8" stroke-width="0.8"/>
<line x1="312" y1="159.6" x2="312" y2="172.05" stroke="#2a2a2a" stroke-width="0.9" stroke-dasharray="14 9"/>
<line x1="308.4" y1="159.6" x2="315.6" y2="159.6" stroke="#000" stroke-width="1.3"/>
<line x1="312" y1="187.4" x2="312" y2="180.65" stroke="#2a2a2a" stroke-width="0.9" stroke-dasharray="14 9"/>
<line x1="308.4" y1="187.4" x2="315.6" y2="187.4" stroke="#000" stroke-width="1.3"/>
<rect x="304.15" y="172.05" width="15.7" height="8.6" fill="#c4c4c4" stroke="#111" stroke-width="1.5"/>
<line x1="304.65" y1="176.1" x2="319.35" y2="176.1" stroke="#2a2a2a" stroke-width="1.3"/>
<line x1="336.68" y1="155.9" x2="336.68" y2="171.55" stroke="#2a2a2a" stroke-width="0.9" stroke-dasharray="14 9"/>
<line x1="332.68" y1="155.9" x2="340.68" y2="155.9" stroke="#000" stroke-width="1.3"/>
<rect x="328.53" y="171.55" width="16.3" height="10.5" fill="#c4c4c4" stroke="#111" stroke-width="1.5"/>
<line x1="329.03" y1="176.6" x2="344.33" y2="176.6" stroke="#2a2a2a" stroke-width="1.3"/>
<rect x="270.7" y="135" width="82.2" height="93.3" fill="none" stroke="#4d4d4d" stroke-width="1.3"/>
<circle cx="288.2" cy="160.8" r="1.6"/>
<circle cx="285.9" cy="165" r="1.6"/>
<circle cx="288.1" cy="172.1" r="1.6"/>
<circle cx="285.3" cy="214.4" r="1.6"/>
<circle cx="311.8" cy="159.6" r="1.6"/>
<circle cx="311.8" cy="172.6" r="1.6"/>
<circle cx="311.8" cy="177.7" r="1.6"/>
<circle cx="311" cy="180.6" r="1.6"/>
<circle cx="312" cy="187.4" r="1.6"/>
<circle cx="310.5" cy="171" r="1.6"/>
<circle cx="313" cy="175" r="1.6"/>
<circle cx="310.8" cy="176.5" r="1.6"/>
<circle cx="334.6" cy="136.2" r="1.6"/>
<circle cx="336.4" cy="137.7" r="1.6"/>
<circle cx="339.6" cy="138.6" r="1.6"/>
<circle cx="335" cy="141.4" r="1.6"/>
<circle cx="338.7" cy="142.3" r="1.6"/>
<circle cx="338.3" cy="145.1" r="1.6"/>
<circle cx="336.8" cy="149.7" r="1.6"/>
<circle cx="336" cy="155.9" r="1.6"/>
<circle cx="335.9" cy="162.7" r="1.6"/>
<circle cx="336.8" cy="165.5" r="1.6"/>
<circle cx="338.07" cy="167.44" r="1.6"/>
<circle cx="335.16" cy="167.93" r="1.6"/>
<circle cx="337.25" cy="168.34" r="1.6"/>
<circle cx="337.75" cy="169.17" r="1.6"/>
<circle cx="337.8" cy="169.76" r="1.6"/>
<circle cx="337.97" cy="170.34" r="1.6"/>
<circle cx="335.95" cy="171.16" r="1.6"/>
<circle cx="337.35" cy="171.7" r="1.6"/>
<circle cx="336.68" cy="172.1" r="1.6"/>
<circle cx="335.18" cy="172.61" r="1.6"/>
<circle cx="337.37" cy="172.97" r="1.6"/>
<circle cx="335.55" cy="173.34" r="1.6"/>
<circle cx="337.96" cy="173.51" r="1.6"/>
<circle cx="336.12" cy="174.04" r="1.6"/>
<circle cx="334.83" cy="174.22" r="1.6"/>
<circle cx="335.31" cy="174.71" r="1.6"/>
<circle cx="336.86" cy="175.15" r="1.6"/>
<circle cx="337.21" cy="175.32" r="1.6"/>
<circle cx="338.65" cy="175.72" r="1.6"/>
<circle cx="336.48" cy="176.21" r="1.6"/>
<circle cx="337.43" cy="176.5" r="1.6"/>
<circle cx="338.88" cy="176.9" r="1.6"/>
<circle cx="335.68" cy="177.06" r="1.6"/>
<circle cx="335.38" cy="177.56" r="1.6"/>
<circle cx="334.27" cy="177.92" r="1.6"/>
<circle cx="336.53" cy="178.35" r="1.6"/>
<circle cx="337.25" cy="178.51" r="1.6"/>
<circle cx="334.82" cy="178.92" r="1.6"/>
<circle cx="334.52" cy="179.32" r="1.6"/>
<circle cx="338.3" cy="179.61" r="1.6"/>
<circle cx="333.87" cy="180.09" r="1.6"/>
<circle cx="333.89" cy="180.46" r="1.6"/>
<circle cx="338.5" cy="180.71" r="1.6"/>
<circle cx="335.39" cy="181.14" r="1.6"/>
<circle cx="335.82" cy="181.43" r="1.6"/>
<circle cx="339" cy="181.73" r="1.6"/>
<circle cx="336" cy="182.07" r="1.6"/>
<circle cx="335.87" cy="182.6" r="1.6"/>
<circle cx="335.08" cy="183.01" r="1.6"/>
<circle cx="338.44" cy="183.37" r="1.6"/>
<circle cx="338.43" cy="183.65" r="1.6"/>
<circle cx="338.12" cy="183.95" r="1.6"/>
<circle cx="336.49" cy="184.4" r="1.6"/>
<circle cx="337.47" cy="184.67" r="1.6"/>
<circle cx="334.25" cy="185.01" r="1.6"/>
<circle cx="335.18" cy="185.45" r="1.6"/>
<circle cx="337.88" cy="185.75" r="1.6"/>
<circle cx="333.91" cy="186.03" r="1.6"/>
<circle cx="336.86" cy="186.37" r="1.6"/>
<circle cx="335.13" cy="186.79" r="1.6"/>
<circle cx="338.62" cy="187.17" r="1.6"/>
<circle cx="335.93" cy="187.47" r="1.6"/>
<circle cx="336.98" cy="187.99" r="1.6"/>
<circle cx="336.27" cy="188.19" r="1.6"/>
<circle cx="334.54" cy="188.6" r="1.6"/>
<circle cx="335.39" cy="188.93" r="1.6"/>
<circle cx="335.48" cy="189.4" r="1.6"/>
<circle cx="338.85" cy="189.72" r="1.6"/>
<circle cx="335.76" cy="190.14" r="1.6"/>
<circle cx="335.46" cy="190.42" r="1.6"/>
<circle cx="336.34" cy="190.72" r="1.6"/>
<circle cx="338.67" cy="191.18" r="1.6"/>
<circle cx="333.83" cy="191.41" r="1.6"/>
<circle cx="334.1" cy="191.81" r="1.6"/>
<circle cx="337.82" cy="192.11" r="1.6"/>
<circle cx="337.54" cy="192.82" r="1.6"/>
<circle cx="338.68" cy="193.6" r="1.6"/>
<circle cx="334.12" cy="194.5" r="1.6"/>
<circle cx="338.73" cy="194.86" r="1.6"/>
<circle cx="335.99" cy="195.72" r="1.6"/>
<circle cx="334.8" cy="199.6" r="1.6"/>
<circle cx="338.2" cy="197.6" r="1.6"/>
<circle cx="333.6" cy="200.6" r="1.6"/>
<line x1="287.62" y1="228.3" x2="287.62" y2="227" stroke="#4d4d4d" stroke-width="1"/>
<line x1="287.62" y1="135" x2="287.62" y2="136.3" stroke="#4d4d4d" stroke-width="1"/>
<line x1="311.8" y1="228.3" x2="311.8" y2="227" stroke="#4d4d4d" stroke-width="1"/>
<line x1="311.8" y1="135" x2="311.8" y2="136.3" stroke="#4d4d4d" stroke-width="1"/>
<line x1="335.98" y1="228.3" x2="335.98" y2="227" stroke="#4d4d4d" stroke-width="1"/>
<line x1="335.98" y1="135" x2="335.98" y2="136.3" stroke="#4d4d4d" stroke-width="1"/>
<line x1="270.7" y1="228.3" x2="272" y2="228.3" stroke="#4d4d4d" stroke-width="1"/>
<line x1="352.9" y1="228.3" x2="351.6" y2="228.3" stroke="#4d4d4d" stroke-width="1"/>
<text x="266.9" y="231.3" text-anchor="end" font-size="8.2">0</text>
<line x1="270.7" y1="203.42" x2="272" y2="203.42" stroke="#4d4d4d" stroke-width="1"/>
<line x1="352.9" y1="203.42" x2="351.6" y2="203.42" stroke="#4d4d4d" stroke-width="1"/>
<text x="266.9" y="206.42" text-anchor="end" font-size="8.2">200</text>
<line x1="270.7" y1="178.54" x2="272" y2="178.54" stroke="#4d4d4d" stroke-width="1"/>
<line x1="352.9" y1="178.54" x2="351.6" y2="178.54" stroke="#4d4d4d" stroke-width="1"/>
<text x="266.9" y="181.54" text-anchor="end" font-size="8.2">400</text>
<line x1="270.7" y1="153.66" x2="272" y2="153.66" stroke="#4d4d4d" stroke-width="1"/>
<line x1="352.9" y1="153.66" x2="351.6" y2="153.66" stroke="#4d4d4d" stroke-width="1"/>
<text x="266.9" y="156.66" text-anchor="end" font-size="8.2">600</text>
<text x="287.62" y="237.7" text-anchor="middle" font-size="8.2">CEM,</text>
<text x="287.62" y="247.8" text-anchor="middle" font-size="8.2">Sept</text>
<text x="311.8" y="237.7" text-anchor="middle" font-size="8.2">RES,</text>
<text x="311.8" y="247.8" text-anchor="middle" font-size="8.2">Sept</text>
<text x="335.98" y="237.7" text-anchor="middle" font-size="8.2">RES,</text>
<text x="335.98" y="247.8" text-anchor="middle" font-size="8.2">All</text>
<text x="0" y="0" text-anchor="middle" font-size="9.2" transform="translate(248.2,181.65) rotate(-90)">Calcium (mg/L)</text>
<line x1="408.1" y1="202.5" x2="408.1" y2="191.7" stroke="#2a2a2a" stroke-width="0.9" stroke-dasharray="14 9"/>
<line x1="403.85" y1="202.5" x2="412.35" y2="202.5" stroke="#000" stroke-width="1.3"/>
<rect x="399.8" y="179.4" width="16.6" height="12.3" fill="#5390c8" stroke="#111" stroke-width="1"/>
<line x1="400.3" y1="179.9" x2="415.9" y2="179.9" stroke="#3f7cb8" stroke-width="0.8"/>
<rect x="424.1" y="186.5" width="15.4" height="10" fill="#8a8a8a" stroke="#111" stroke-width="1.5"/>
<line x1="424.6" y1="192" x2="439" y2="192" stroke="#2a2a2a" stroke-width="1.3"/>
<line x1="455.8" y1="165.4" x2="455.8" y2="184.8" stroke="#2a2a2a" stroke-width="0.9" stroke-dasharray="14 9"/>
<line x1="452.2" y1="165.4" x2="459.4" y2="165.4" stroke="#000" stroke-width="1.3"/>
<rect x="448.15" y="184.8" width="15.3" height="11.3" fill="#c4c4c4" stroke="#111" stroke-width="1.5"/>
<line x1="448.65" y1="191.1" x2="462.95" y2="191.1" stroke="#2a2a2a" stroke-width="1.3"/>
<rect x="391" y="135" width="81.6" height="93.3" fill="none" stroke="#4d4d4d" stroke-width="1.3"/>
<circle cx="406.2" cy="179" r="1.6"/>
<circle cx="407.4" cy="179.6" r="1.6"/>
<circle cx="406.3" cy="202.5" r="1.6"/>
<circle cx="432.5" cy="185.6" r="1.6"/>
<circle cx="432.5" cy="197.8" r="1.6"/>
<circle cx="456" cy="147.6" r="1.6"/>
<circle cx="456" cy="150.5" r="1.6"/>
<circle cx="456" cy="153.6" r="1.6"/>
<circle cx="454.8" cy="166.8" r="1.6"/>
<circle cx="453.9" cy="169.9" r="1.6"/>
<circle cx="455.7" cy="173.5" r="1.6"/>
<circle cx="454.04" cy="175.21" r="1.6"/>
<circle cx="453.76" cy="175.89" r="1.6"/>
<circle cx="454.82" cy="176.4" r="1.6"/>
<circle cx="455.33" cy="176.77" r="1.6"/>
<circle cx="455.06" cy="177.32" r="1.6"/>
<circle cx="453.83" cy="177.89" r="1.6"/>
<circle cx="456.48" cy="178.58" r="1.6"/>
<circle cx="454.3" cy="179.02" r="1.6"/>
<circle cx="456.91" cy="179.77" r="1.6"/>
<circle cx="454.93" cy="180.31" r="1.6"/>
<circle cx="453.67" cy="181.02" r="1.6"/>
<circle cx="454.54" cy="181.53" r="1.6"/>
<circle cx="453.92" cy="181.81" r="1.6"/>
<circle cx="456.44" cy="182.43" r="1.6"/>
<circle cx="455.59" cy="182.93" r="1.6"/>
<circle cx="454.84" cy="183.67" r="1.6"/>
<circle cx="453.73" cy="184.19" r="1.6"/>
<circle cx="454.24" cy="184.55" r="1.6"/>
<circle cx="455.04" cy="185.35" r="1.6"/>
<circle cx="455.61" cy="185.76" r="1.6"/>
<circle cx="454.58" cy="186.37" r="1.6"/>
<circle cx="456.02" cy="187.06" r="1.6"/>
<circle cx="455.57" cy="187.4" r="1.6"/>
<circle cx="456.65" cy="188.07" r="1.6"/>
<circle cx="454.54" cy="188.7" r="1.6"/>
<circle cx="453.93" cy="189.35" r="1.6"/>
<circle cx="456.23" cy="189.69" r="1.6"/>
<circle cx="455.26" cy="190.14" r="1.6"/>
<circle cx="455.91" cy="190.65" r="1.6"/>
<circle cx="455.56" cy="191.49" r="1.6"/>
<circle cx="454.63" cy="192.09" r="1.6"/>
<circle cx="455.64" cy="192.58" r="1.6"/>
<circle cx="455.14" cy="193.09" r="1.6"/>
<circle cx="456.9" cy="193.74" r="1.6"/>
<circle cx="455.89" cy="194.16" r="1.6"/>
<circle cx="456.03" cy="194.55" r="1.6"/>
<circle cx="457.08" cy="195.33" r="1.6"/>
<circle cx="454.52" cy="195.96" r="1.6"/>
<circle cx="455.91" cy="196.34" r="1.6"/>
<circle cx="455.16" cy="196.76" r="1.6"/>
<circle cx="453.92" cy="197.37" r="1.6"/>
<circle cx="456.27" cy="197.88" r="1.6"/>
<circle cx="454.39" cy="198.47" r="1.6"/>
<circle cx="456.64" cy="199.12" r="1.6"/>
<circle cx="455.12" cy="199.56" r="1.6"/>
<circle cx="456.68" cy="200.46" r="1.6"/>
<circle cx="456.61" cy="201.49" r="1.6"/>
<circle cx="455" cy="202.03" r="1.6"/>
<circle cx="456.68" cy="202.94" r="1.6"/>
<circle cx="454.04" cy="204.16" r="1.6"/>
<circle cx="454.34" cy="204.55" r="1.6"/>
<circle cx="455.25" cy="205.45" r="1.6"/>
<circle cx="454.45" cy="206.53" r="1.6"/>
<circle cx="455.01" cy="207.04" r="1.6"/>
<circle cx="455.54" cy="208.13" r="1.6"/>
<circle cx="455.99" cy="209.34" r="1.6"/>
<circle cx="455.72" cy="209.94" r="1.6"/>
<circle cx="453.69" cy="210.9" r="1.6"/>
<circle cx="456.31" cy="211.9" r="1.6"/>
<circle cx="456.37" cy="212.75" r="1.6"/>
<circle cx="454.94" cy="213.32" r="1.6"/>
<circle cx="455.78" cy="214.01" r="1.6"/>
<circle cx="453.74" cy="214.85" r="1.6"/>
<circle cx="454.08" cy="215.8" r="1.6"/>
<circle cx="453.69" cy="216.74" r="1.6"/>
<circle cx="454.04" cy="217.4" r="1.6"/>
<circle cx="454.81" cy="218.33" r="1.6"/>
<line x1="407.8" y1="228.3" x2="407.8" y2="227" stroke="#4d4d4d" stroke-width="1"/>
<line x1="407.8" y1="135" x2="407.8" y2="136.3" stroke="#4d4d4d" stroke-width="1"/>
<line x1="431.8" y1="228.3" x2="431.8" y2="227" stroke="#4d4d4d" stroke-width="1"/>
<line x1="431.8" y1="135" x2="431.8" y2="136.3" stroke="#4d4d4d" stroke-width="1"/>
<line x1="455.8" y1="228.3" x2="455.8" y2="227" stroke="#4d4d4d" stroke-width="1"/>
<line x1="455.8" y1="135" x2="455.8" y2="136.3" stroke="#4d4d4d" stroke-width="1"/>
<line x1="391" y1="228.3" x2="392.3" y2="228.3" stroke="#4d4d4d" stroke-width="1"/>
<line x1="472.6" y1="228.3" x2="471.3" y2="228.3" stroke="#4d4d4d" stroke-width="1"/>
<text x="387.2" y="231.3" text-anchor="end" font-size="8.2">0</text>
<line x1="391" y1="204.98" x2="392.3" y2="204.98" stroke="#4d4d4d" stroke-width="1"/>
<line x1="472.6" y1="204.98" x2="471.3" y2="204.98" stroke="#4d4d4d" stroke-width="1"/>
<text x="387.2" y="207.98" text-anchor="end" font-size="8.2">100</text>
<line x1="391" y1="181.65" x2="392.3" y2="181.65" stroke="#4d4d4d" stroke-width="1"/>
<line x1="472.6" y1="181.65" x2="471.3" y2="181.65" stroke="#4d4d4d" stroke-width="1"/>
<text x="387.2" y="184.65" text-anchor="end" font-size="8.2">200</text>
<line x1="391" y1="158.32" x2="392.3" y2="158.32" stroke="#4d4d4d" stroke-width="1"/>
<line x1="472.6" y1="158.32" x2="471.3" y2="158.32" stroke="#4d4d4d" stroke-width="1"/>
<text x="387.2" y="161.32" text-anchor="end" font-size="8.2">300</text>
<line x1="391" y1="135" x2="392.3" y2="135" stroke="#4d4d4d" stroke-width="1"/>
<line x1="472.6" y1="135" x2="471.3" y2="135" stroke="#4d4d4d" stroke-width="1"/>
<text x="387.2" y="138" text-anchor="end" font-size="8.2">400</text>
<text x="407.8" y="237.7" text-anchor="middle" font-size="8.2">CEM,</text>
<text x="407.8" y="247.8" text-anchor="middle" font-size="8.2">Sept</text>
<text x="431.8" y="237.7" text-anchor="middle" font-size="8.2">RES,</text>
<text x="431.8" y="247.8" text-anchor="middle" font-size="8.2">Sept</text>
<text x="455.8" y="237.7" text-anchor="middle" font-size="8.2">RES,</text>
<text x="455.8" y="247.8" text-anchor="middle" font-size="8.2">All</text>
<text x="0" y="0" text-anchor="middle" font-size="9.2" transform="translate(368.7,181.65) rotate(-90)">Sodium (mg/L)</text>
</svg>
</body></html>
